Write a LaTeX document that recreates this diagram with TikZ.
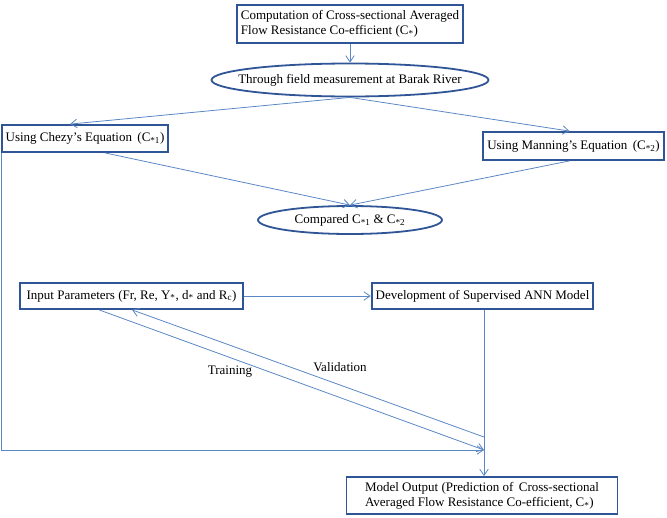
\documentclass[tikz,border=0pt]{standalone}
\usepackage{fontspec}
\setmainfont{Liberation Serif}
\usetikzlibrary{arrows.meta,positioning,calc,shapes.geometric}
\definecolor{cEdge}{HTML}{2F5597}
\definecolor{cLine}{HTML}{5B87C5}
\tikzset{
  box/.style={draw=cEdge, line width=1.8pt, fill=white, align=left,
    font=\fontsize{13}{15}\selectfont, inner xsep=4pt, inner ysep=3pt},
  oval/.style={box, ellipse, align=center, inner xsep=-60pt, inner ysep=0pt},
  flow/.style={-{Straight Barb[length=2.2mm,width=3mm]}, draw=cLine, line width=0.8pt},
  lbl/.style={font=\fontsize{13}{15}\selectfont},
}
\begin{document}
\begin{tikzpicture}[x=1pt,y=-1pt]
  \useasboundingbox (0,0) rectangle (667,517);
  % --- top part ---
  \node[box, minimum width=225pt, minimum height=38pt] (comp) at (350,24)
    {Computation of Cross-sectional Averaged\\Flow Resistance Co-efficient (C\textsubscript{*})};
  \node[oval, minimum width=277pt, minimum height=33pt] (field) at (350,80)
    {Through field measurement at Barak River};
  \node[box, minimum width=166pt, minimum height=27pt] (chezy) at (85,138.5)
    {Using Chezy's Equation\, (C\textsubscript{*1})};
  \node[box, minimum width=181pt, minimum height=28pt] (manning) at (573.5,146)
    {Using Manning's Equation\, (C\textsubscript{*2})};
  \node[oval, minimum width=184pt, minimum height=28pt] (cmp) at (350,220)
    {Compared C\textsubscript{*1} \& C\textsubscript{*2}};
  % --- ANN part ---
  \node[box, minimum width=223pt, minimum height=26pt] (inp) at (131.5,296)
    {Input Parameters (Fr, Re, Y\textsubscript{*}, d\textsubscript{*} and R\textsubscript{c})};
  \node[box, minimum width=221pt, minimum height=26pt] (dev) at (482.5,296)
    {Development of Supervised ANN Model};
  \node[box, minimum width=271pt, minimum height=37pt] (model) at (482,495.5)
    {Model Output (Prediction of\, Cross-sectional\\Averaged Flow Resistance Co-efficient, C\textsubscript{*})};
  \coordinate (jv) at (484,437);
  \coordinate (jt) at (484,450);
  % --- connectors ---
  \draw[flow] (comp) -- (field);
  \draw[flow] (field.south) -- ($(chezy.north)+(-15,0)$);
  \draw[flow] (field.south) -- ($(manning.north)+(-4,0)$);
  \draw[flow] ($(chezy.south)+(20,0)$) -- (cmp.north);
  \draw[flow] ($(manning.south)+(-4,0)$) -- (cmp.north);
  \draw[flow] ($(chezy.south west)+(1,0)$) |- (jt);
  \draw[flow] (inp) -- (dev);
  \draw[flow] (dev.south -| jt) -- (model.north -| jt);
  \draw[flow] ($(inp.south west)+(80,0)$) -- (jt);
  \draw[flow] (jv) -- ($(inp.south west)+(113,0)$);
  \node[lbl] (trn) at (230,372) {Training};
  \node[lbl] (val) at (340,367) {Validation};
\end{tikzpicture}
\end{document}
